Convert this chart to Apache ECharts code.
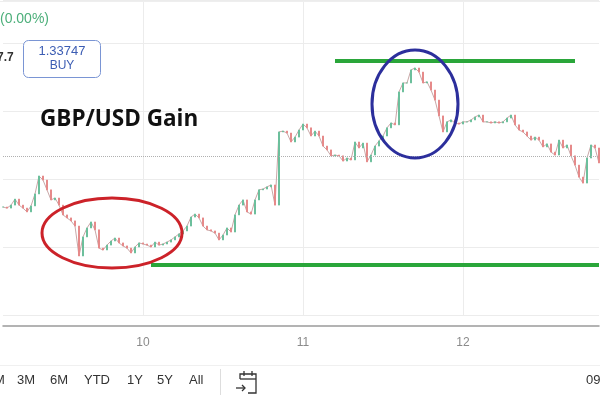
<!DOCTYPE html>
<html><head><meta charset="utf-8">
<script src="https://cdn.jsdelivr.net/npm/echarts@6/dist/echarts.min.js"></script>
<style>html,body{margin:0;padding:0;background:#fff}#c{width:600px;height:400px}</style>
</head><body><div id="c"></div>
<script>
// GBP/USD closing prices, one per step (40 steps per day)
const closes = [
 1.33397,1.33393,1.33404,1.33426,1.33404,1.33393,1.33379,1.33401,1.33445,1.33511,
 1.33496,1.33460,1.33423,1.33430,1.33404,1.33368,1.33357,1.33346,1.33327,1.33217,
 1.33287,1.33320,1.33342,1.33313,1.33246,1.33239,1.33257,1.33272,1.33283,1.33265,
 1.33254,1.33246,1.33228,1.33250,1.33265,1.33261,1.33257,1.33250,1.33268,1.33257,
 1.33261,1.33268,1.33276,1.33287,1.33298,1.33309,1.33327,1.33360,1.33371,1.33357,
 1.33327,1.33313,1.33309,1.33301,1.33276,1.33294,1.33320,1.33305,1.33368,1.33404,
 1.33423,1.33379,1.33371,1.33423,1.33460,1.33463,1.33471,1.33478,1.33404,1.33673,
 1.33676,1.33669,1.33636,1.33654,1.33680,1.33702,1.33688,1.33658,1.33676,1.33658,
 1.33621,1.33607,1.33585,1.33588,1.33585,1.33566,1.33577,1.33570,1.33636,1.33614,
 1.33632,1.33563,1.33588,1.33621,1.33640,1.33658,1.33688,1.33706,1.33699,1.33820,
 1.33853,1.33853,1.33901,1.33908,1.33893,1.33853,1.33857,1.33827,1.33790,1.33732,
 1.33673,1.33710,1.33717,1.33706,1.33702,1.33710,1.33710,1.33717,1.33728,1.33735,
 1.33710,1.33710,1.33706,1.33710,1.33706,1.33710,1.33724,1.33735,1.33699,1.33680,
 1.33673,1.33658,1.33643,1.33654,1.33643,1.33618,1.33629,1.33599,1.33588,1.33643,
 1.33614,1.33625,1.33585,1.33551,1.33507,1.33485,1.33577,1.33625,1.33614,1.33559
];
const dayTickLabels = ['10', '11', '12'];
const dayTickIndex = [35, 75, 115];
const resistanceLevel = 1.33934;
const resistanceSpan = [83, 143];
const supportLevel = 1.33184;
const supportSpan = [37, 149];
const lastPriceLevel = 1.33585;
const buyPrice = '1.33747';
const changeText = '(0.00%)';
const leftPriceText = '7.7';
const titleText = 'GBP/USD Gain';
const rangeButtons = ['M', '3M', '6M', 'YTD', '1Y', '5Y', 'All'];
const clockText = '09';

const categories = closes.map((_, i) => String(i));
const candles = closes.map((c, i) => {
  const o = i === 0 ? c : closes[i - 1];
  return [o, c, Math.min(o, c), Math.max(o, c)];
});
const isDayTick = (idx) => dayTickIndex.indexOf(idx) >= 0;
const lastIdx = String(closes.length - 1);

const chart = echarts.init(document.getElementById('c'), null, {renderer: 'canvas'});

const rangeX = [-6, 17, 50, 84, 127, 157, 189];
const btnGraphics = rangeButtons.map((t, k) => ({
  type: 'text', left: rangeX[k], top: 374, z: 10,
  style: {text: t, font: '13px "Liberation Sans", Arial, sans-serif', fill: '#333'}
}));

chart.setOption({
  animation: false,
  backgroundColor: '#ffffff',
  grid: {left: 3, right: 1, top: 0, bottom: 85},
  xAxis: {
    type: 'category', data: categories, boundaryGap: false, offset: 11,
    axisLine: {show: true, lineStyle: {color: '#9a9a9a', width: 1.5}},
    axisTick: {show: false},
    axisLabel: {
      interval: (idx) => isDayTick(idx),
      formatter: (v, idx) => { const k = dayTickIndex.indexOf(idx); return k >= 0 ? dayTickLabels[k] : ''; },
      color: '#8a8a8a', fontSize: 12, margin: 11, fontFamily: 'Liberation Sans, Arial, sans-serif'
    },
    splitLine: {show: true, interval: (idx) => isDayTick(idx), lineStyle: {color: '#ececec', width: 1}}
  },
  yAxis: {
    type: 'value', min: 1.3300, max: 1.34158, interval: 0.0025, position: 'right',
    axisLabel: {show: false}, axisLine: {show: false}, axisTick: {show: false},
    splitLine: {show: true, lineStyle: {color: '#ececec', width: 1}}
  },
  series: [{
    type: 'line',
    data: closes,
    symbol: 'none',
    silent: true,
    z: 1,
    lineStyle: {color: '#c9a7a7', width: 1},
    markLine: {
      silent: true, symbol: ['none', 'none'], label: {show: false},
      data: [
        [{coord: ['0', lastPriceLevel], lineStyle: {type: 'dotted', color: '#b0b0b0', width: 1}},
         {coord: [lastIdx, lastPriceLevel]}]
      ]
    }
  }, {
    type: 'candlestick',
    data: candles,
    barWidth: 2,
    z: 3,
    itemStyle: {color: '#6cbf9c', color0: '#e68a8a', borderColor: '#6cbf9c', borderColor0: '#e68a8a', borderWidth: 1},
    markLine: {
      silent: true, symbol: ['none', 'none'], label: {show: false}, z: 5,
      data: [
        [{coord: [String(resistanceSpan[0]), resistanceLevel], lineStyle: {type: 'solid', color: '#2aa63a', width: 4}},
         {coord: [String(resistanceSpan[1]), resistanceLevel]}],
        [{coord: [String(supportSpan[0]), supportLevel], lineStyle: {type: 'solid', color: '#2aa63a', width: 4}},
         {coord: [String(supportSpan[1]), supportLevel]}]
      ]
    }
  }],
  graphic: [
    {type: 'line', shape: {x1: 0, y1: 1.5, x2: 600, y2: 1.5}, z: 1, style: {stroke: '#eeeeee', lineWidth: 1}},
    {type: 'ellipse', shape: {cx: 112, cy: 233, rx: 70, ry: 35}, z: 20,
     style: {fill: null, stroke: '#cc2229', lineWidth: 3}},
    {type: 'ellipse', shape: {cx: 415, cy: 104, rx: 43, ry: 54}, z: 20,
     style: {fill: null, stroke: '#2c2f9c', lineWidth: 3}},
    {type: 'text', left: 0, top: 12, z: 10,
     style: {text: changeText, font: '14px "Liberation Sans", Arial, sans-serif', fill: '#4caf7a'}},
    {type: 'text', left: -3, top: 52, z: 10,
     style: {text: leftPriceText, font: 'bold 12px "Liberation Sans", Arial, sans-serif', fill: '#333'}},
    {type: 'rect', shape: {x: 23.5, y: 40.5, width: 77, height: 37, r: 5}, z: 10,
     style: {fill: '#ffffff', stroke: '#7a95d4', lineWidth: 1}},
    {type: 'text', x: 62, y: 51, z: 11,
     style: {text: buyPrice, font: '13px "Liberation Sans", Arial, sans-serif', fill: '#3c5db3', align: 'center', verticalAlign: 'middle'}},
    {type: 'text', x: 62, y: 66, z: 11,
     style: {text: 'BUY', font: '12px "Liberation Sans", Arial, sans-serif', fill: '#3c5db3', align: 'center', verticalAlign: 'middle'}},
    {type: 'text', x: 40, y: 120, z: 10,
     style: {text: titleText, font: 'bold 22.5px "Open Sans", sans-serif', fill: '#111', verticalAlign: 'middle'}},
    {type: 'line', shape: {x1: 0, y1: 365.5, x2: 600, y2: 365.5}, z: 5, style: {stroke: '#f0f0f0', lineWidth: 1}},
    {type: 'line', shape: {x1: 220.5, y1: 369, x2: 220.5, y2: 395}, z: 5, style: {stroke: '#dddddd', lineWidth: 1}},
    {type: 'polyline', shape: {points: [[240, 379], [240, 374], [256, 374], [256, 393], [248, 393]]}, z: 5,
     style: {stroke: '#333', lineWidth: 1.3, fill: null}},
    {type: 'line', shape: {x1: 240, y1: 379, x2: 256, y2: 379}, z: 5, style: {stroke: '#333', lineWidth: 1.3}},
    {type: 'line', shape: {x1: 244, y1: 371, x2: 244, y2: 376}, z: 5, style: {stroke: '#333', lineWidth: 1.3}},
    {type: 'line', shape: {x1: 252, y1: 371, x2: 252, y2: 376}, z: 5, style: {stroke: '#333', lineWidth: 1.3}},
    {type: 'polyline', shape: {points: [[236, 388], [245, 388]]}, z: 5, style: {stroke: '#333', lineWidth: 1.3, fill: null}},
    {type: 'polyline', shape: {points: [[242, 385], [245, 388], [242, 391]]}, z: 5, style: {stroke: '#333', lineWidth: 1.3, fill: null}},
    {type: 'text', left: 586, top: 374, z: 10,
     style: {text: clockText, font: '13px "Liberation Sans", Arial, sans-serif', fill: '#333'}}
  ].concat(btnGraphics)
});
</script></body></html>
